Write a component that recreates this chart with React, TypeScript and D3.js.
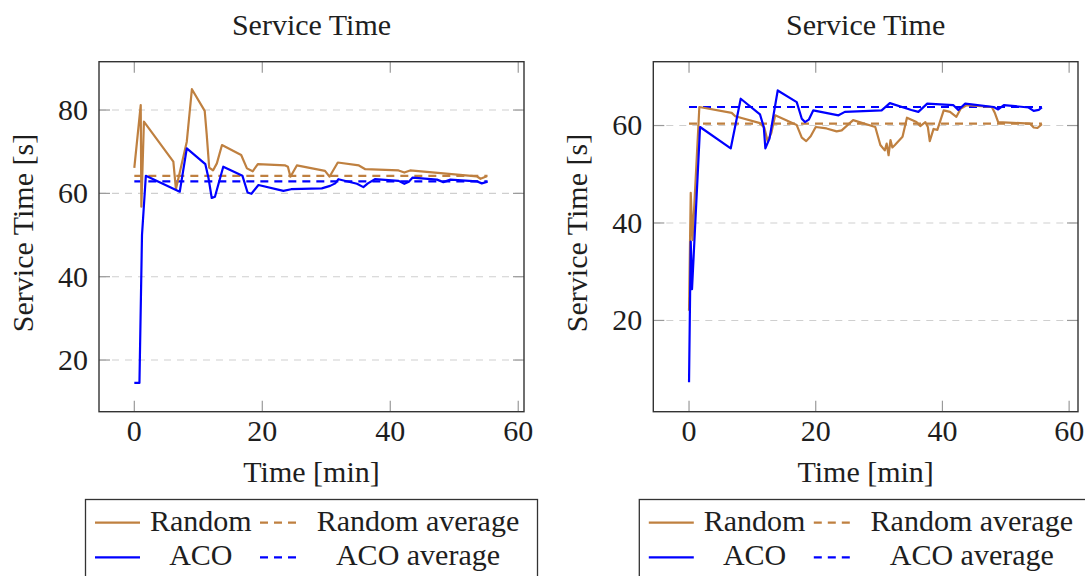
import React from 'react';
import * as d3 from 'd3';

// ---------- data ----------
const xTicks = [0, 20, 40, 60];
const leftYTicks = [20, 40, 60, 80];
const rightYTicks = [20, 40, 60];
const titles = ['Service Time', 'Service Time'];
const xLabel = 'Time [min]';
const yLabel = 'Service Time [s]';
const legendLabels = ['Random', 'Random average', 'ACO', 'ACO average'];

const leftRandomT = [0, 1.0, 1.1, 1.5, 6.1, 6.5, 8.2, 9.0, 11.0, 11.3, 11.7, 12.3, 12.9, 13.7, 16.7, 17.6, 18.5, 19.3, 23.6, 24.0, 24.4, 25.4, 29.8, 30.5, 31.8, 35.1, 36.1, 41.3, 42.2, 43.1, 53.5, 54.1, 55.1];
const leftRandomV = [66.1, 81.2, 56.8, 77.2, 67.6, 61.0, 72.4, 85.0, 79.8, 74.4, 66.2, 65.5, 67.2, 71.6, 69.2, 66.0, 65.3, 67.0, 66.7, 66.4, 64.0, 66.7, 65.4, 64.0, 67.4, 66.7, 65.8, 65.5, 65.0, 65.5, 64.1, 63.5, 64.1];
const leftAcoT = [0, 0.8, 1.2, 1.8, 7.1, 8.2, 11.1, 11.6, 12.1, 12.6, 13.9, 16.9, 17.7, 18.3, 19.4, 23.3, 24.5, 29.3, 30.6, 31.4, 31.9, 34.8, 35.8, 36.5, 37.6, 41.3, 42.2, 42.9, 43.5, 47.3, 48.3, 49.4, 53.5, 54.3, 55.2];
const leftAcoV = [14.5, 14.5, 50, 64.2, 60.4, 70.8, 67.0, 63.6, 58.9, 59.2, 66.4, 64.2, 60.2, 59.9, 62.0, 60.6, 61.0, 61.2, 61.8, 62.4, 63.4, 62.3, 61.5, 62.4, 63.4, 63.0, 62.3, 62.8, 63.8, 63.3, 62.7, 63.3, 62.9, 62.4, 62.8];
const leftRandomAvg = 64.2;
const leftAcoAvg = 62.9;
const leftAvgSpan = [0, 55.2];

const rightRandomT = [0, 0.27, 0.55, 1.63, 6.74, 7.3, 11.2, 11.9, 12.4, 13.0, 13.6, 17.0, 17.8, 18.5, 19.2, 20.0, 21.7, 23.3, 24.1, 25.9, 29.4, 30.2, 30.9, 31.2, 31.5, 31.8, 32.1, 32.5, 33.7, 34.4, 35.9, 36.5, 37.3, 37.7, 38.0, 38.6, 39.2, 40.2, 41.2, 42.2, 42.9, 43.9, 47.8, 48.3, 48.8, 53.8, 54.4, 55.0, 55.7];
const rightRandomV = [22, 46.2, 36.5, 63.8, 62.6, 61.9, 60.5, 59.5, 56.8, 58.5, 62.1, 60.1, 57.5, 56.8, 57.8, 59.7, 59.4, 58.8, 59.0, 61.1, 59.7, 56.0, 54.9, 56.3, 53.9, 57.0, 55.5, 56.0, 57.7, 61.6, 60.7, 59.9, 60.7, 59.7, 56.8, 59.3, 59.1, 63.1, 62.8, 61.8, 63.5, 64.2, 63.8, 62.5, 60.7, 60.4, 59.6, 59.5, 60.3];
const rightAcoT = [0, 0.27, 0.47, 1.74, 6.58, 8.16, 11.2, 11.8, 12.05, 12.7, 14.0, 17.0, 17.8, 18.3, 18.9, 19.6, 23.6, 24.6, 30.4, 31.7, 35.1, 36.2, 37.6, 41.7, 42.5, 43.6, 48.1, 48.8, 49.7, 53.6, 54.4, 55.2, 55.7];
const rightAcoV = [7.3, 36.2, 26.4, 59.7, 55.3, 65.5, 62.3, 59.7, 55.3, 57.3, 67.2, 64.8, 61.4, 60.7, 61.2, 63.1, 62.1, 62.8, 63.1, 64.6, 63.2, 62.8, 64.5, 64.2, 63.2, 64.5, 63.8, 63.3, 64.2, 63.7, 63.0, 63.2, 63.7];
const rightRandomAvg = 60.4;
const rightAcoAvg = 63.8;
const rightAvgSpan = [0, 55.7];

// ---------- style ----------
const BROWN = '#bf8040';
const BLUE = '#0000ff';
const TEXT = '#1e1e1e';
const FONT = '"Liberation Serif", "Times New Roman", serif';
const FS = 30;

type PanelProps = {
  x0: number; x1: number; y0: number; y1: number;
  xDomain: [number, number]; yDomain: [number, number];
  yTicks: number[]; title: string;
  randT: number[]; randV: number[]; acoT: number[]; acoV: number[];
  randAvg: number; acoAvg: number; avgSpan: number[];
  legendX: number; id: string;
};

function Panel(p: PanelProps) {
  const x = d3.scaleLinear().domain(p.xDomain).range([p.x0, p.x1]);
  const y = d3.scaleLinear().domain(p.yDomain).range([p.y1, p.y0]);
  const line = d3.line<[number, number]>().x(d => x(d[0])).y(d => y(d[1]));
  const rand = line(p.randT.map((t, i) => [t, p.randV[i]] as [number, number])) || '';
  const aco = line(p.acoT.map((t, i) => [t, p.acoV[i]] as [number, number])) || '';
  const randAvgPath = line(p.avgSpan.map(t => [t, p.randAvg] as [number, number])) || '';
  const acoAvgPath = line(p.avgSpan.map(t => [t, p.acoAvg] as [number, number])) || '';
  const cx = (p.x0 + p.x1) / 2;
  const tickLen = 11;
  const lx = p.legendX;
  const col1Sample = [lx + 9.5, lx + 54.5];
  const col1Text = lx + 115.3;
  const col2Sample = [lx + 174.5, lx + 214];
  const col2Text = lx + 332.5;
  const rows = [522.7, 557.3];
  const legendColors = [BROWN, BROWN, BLUE, BLUE];
  return (
    <g>
      <defs>
        <clipPath id={'clip' + p.id}>
          <rect x={p.x0} y={p.y0} width={p.x1 - p.x0} height={p.y1 - p.y0} />
        </clipPath>
      </defs>
      {p.yTicks.map(v => (
        <line key={'g' + v} x1={p.x0} x2={p.x1} y1={y(v)} y2={y(v)} stroke="#cfcfcf" strokeWidth={1.1} strokeDasharray="7 6" />
      ))}
      {xTicks.map(v => (
        <g key={'xt' + v}>
          <line x1={x(v)} x2={x(v)} y1={p.y1} y2={p.y1 - tickLen} stroke="#9a9a9a" strokeWidth={1.2} />
          <line x1={x(v)} x2={x(v)} y1={p.y0} y2={p.y0 + tickLen} stroke="#9a9a9a" strokeWidth={1.2} />
          <text x={x(v)} y={441} textAnchor="middle" fontFamily={FONT} fontSize={FS} fill={TEXT}>{v}</text>
        </g>
      ))}
      {p.yTicks.map(v => (
        <g key={'yt' + v}>
          <line x1={p.x0} x2={p.x0 + tickLen} y1={y(v)} y2={y(v)} stroke="#9a9a9a" strokeWidth={1.2} />
          <line x1={p.x1} x2={p.x1 - tickLen} y1={y(v)} y2={y(v)} stroke="#9a9a9a" strokeWidth={1.2} />
          <text x={p.x0 - 11} y={y(v) + 9.8} textAnchor="end" fontFamily={FONT} fontSize={FS} fill={TEXT}>{v}</text>
        </g>
      ))}
      <g clipPath={`url(#clip${p.id})`} fill="none" strokeLinejoin="round">
        <path d={randAvgPath} stroke={BROWN} strokeWidth={2.2} strokeDasharray="8 6" />
        <path d={acoAvgPath} stroke={BLUE} strokeWidth={2.2} strokeDasharray="8 6" />
        <path d={rand} stroke={BROWN} strokeWidth={2.2} />
        <path d={aco} stroke={BLUE} strokeWidth={2.2} />
      </g>
      <rect x={p.x0} y={p.y0} width={p.x1 - p.x0} height={p.y1 - p.y0} fill="none" stroke="#333" strokeWidth={1.4} />
      <text x={cx} y={35} textAnchor="middle" fontFamily={FONT} fontSize={FS} fill={TEXT}>{p.title}</text>
      <text x={cx} y={482} textAnchor="middle" fontFamily={FONT} fontSize={FS} fill={TEXT}>{xLabel}</text>
      <text transform={`translate(${p.x0 - 66},${233}) rotate(-90)`} textAnchor="middle" fontFamily={FONT} fontSize={FS} fill={TEXT}>{yLabel}</text>
      <rect x={lx} y={499.5} width={452} height={100} fill="white" stroke="#333" strokeWidth={1.3} />
      {legendLabels.map((lab, i) => {
        const row = rows[Math.floor(i / 2)];
        const isAvg = i % 2 === 1;
        const s = isAvg ? col2Sample : col1Sample;
        const tx = isAvg ? col2Text : col1Text;
        return (
          <g key={lab}>
            <line x1={s[0]} x2={s[1]} y1={row} y2={row} stroke={legendColors[i]} strokeWidth={2.2} strokeDasharray={isAvg ? '8 6' : undefined} />
            <text x={tx} y={row + 7.8} textAnchor="middle" fontFamily={FONT} fontSize={FS} fill={TEXT}>{lab}</text>
          </g>
        );
      })}
    </g>
  );
}

export default function App() {
  return (
    <svg width={1085} height={576} style={{ position: 'absolute', left: 0, top: 0, background: 'white' }}>
      <rect x={0} y={0} width={1085} height={576} fill="white" />
      <Panel id="L" x0={99} x1={524} y0={61.7} y1={411.7} xDomain={[-5.52, 60.9]} yDomain={[7.6, 91.6]}
        yTicks={leftYTicks} title={titles[0]} randT={leftRandomT} randV={leftRandomV} acoT={leftAcoT} acoV={leftAcoV}
        randAvg={leftRandomAvg} acoAvg={leftAcoAvg} avgSpan={leftAvgSpan} legendX={85.5} />
      <Panel id="R" x0={653.3} x1={1078} y0={61.7} y1={411.7} xDomain={[-5.64, 61.4]} yDomain={[1.27, 73.1]}
        yTicks={rightYTicks} title={titles[1]} randT={rightRandomT} randV={rightRandomV} acoT={rightAcoT} acoV={rightAcoV}
        randAvg={rightRandomAvg} acoAvg={rightAcoAvg} avgSpan={rightAvgSpan} legendX={639.3} />
    </svg>
  );
}
